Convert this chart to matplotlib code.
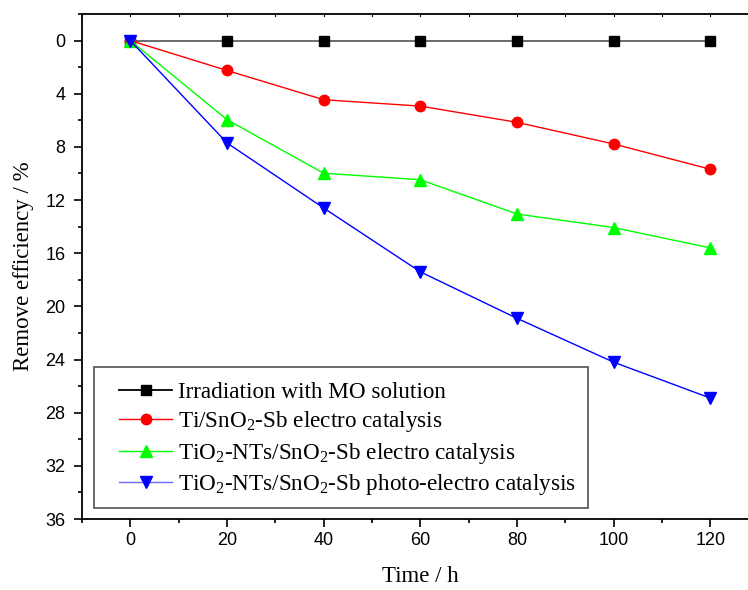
import matplotlib
matplotlib.use("Agg")
import matplotlib.pyplot as plt
from matplotlib.ticker import MultipleLocator
from matplotlib.patches import Rectangle

time_h = [0, 20, 40, 60, 80, 100, 120]
irradiation = [0, 0, 0, 0, 0, 0, 0]
ti_sno2 = [0, 2.25, 4.45, 4.93, 6.15, 7.78, 9.68]
tio2_electro = [0, 5.95, 9.98, 10.47, 13.05, 14.07, 15.6]
tio2_photo = [0, 7.7, 12.6, 17.4, 20.9, 24.2, 26.9]

labels = ["Irradiation with MO solution",
          "Ti/SnO$_2$-Sb electro catalysis",
          "TiO$_2$-NTs/SnO$_2$-Sb electro catalysis",
          "TiO$_2$-NTs/SnO$_2$-Sb photo-electro catalysis"]

serif = ["Liberation Serif", "DejaVu Serif"]
sans = ["Liberation Sans", "DejaVu Sans"]
plt.rcParams['mathtext.fontset'] = 'custom'
plt.rcParams['mathtext.rm'] = 'Liberation Serif'
plt.rcParams['mathtext.it'] = 'Liberation Serif:italic'

fig = plt.figure(figsize=(7.48, 5.9), dpi=100)
W, H = 748, 590
left_px, right_px = 82, 82 + 140 * 4.833
top_px, bot_px = 14, 519
ax = fig.add_axes([left_px / W, 1 - bot_px / H, (right_px - left_px) / W, (bot_px - top_px) / H])

h1, = ax.plot(time_h, irradiation, color="#606060", lw=1.3, marker="s", ms=6.5,
              mfc="black", mec="black")
h2, = ax.plot(time_h, ti_sno2, color="red", lw=1.0, marker="o", ms=7.5,
              mfc="red", mec="red")
h3, = ax.plot(time_h, tio2_electro, color="#00ff00", lw=1.0, marker="^", ms=8.5,
              mfc="#00ff00", mec="#00ff00")
h4, = ax.plot(time_h, tio2_photo, color="blue", lw=1.0, marker="v", ms=8.5,
              mfc="blue", mec="blue")

ax.set_xlim(-10, 130)
ax.set_ylim(36, -2)
ax.xaxis.set_major_locator(MultipleLocator(20))
ax.xaxis.set_minor_locator(MultipleLocator(10))
ax.yaxis.set_major_locator(MultipleLocator(4))
ax.yaxis.set_minor_locator(MultipleLocator(2))
ax.tick_params(axis='both', which='major', direction='out', length=5.5, width=1.2,
               labelsize=13, top=False, right=False)
ax.tick_params(axis='both', which='minor', direction='out', length=3.2, width=1.2,
               top=False, right=False)
ax.tick_params(axis='y', which='major', pad=6.5)
ax.tick_params(axis='x', which='major', pad=4)
for t in ax.get_xticklabels() + ax.get_yticklabels():
    t.set_family(sans)
# short inward ticks along the top spine
for x in range(-10, 131, 10):
    ax.plot([x, x], [-2, -1.85], color="black", lw=0.8, clip_on=False)
ax.set_xlim(-10, 130)
ax.set_ylim(36, -2)

for s in ax.spines.values():
    s.set_linewidth(1.3)

ax.set_xlabel("Time / h", fontsize=16.5, family=serif, labelpad=12)
ax.set_ylabel("Remove efficiency / %", fontsize=16.5, family=serif, labelpad=8)

# legend frame (drawn separately)
fig.patches.append(Rectangle((94 / W, 1 - 508 / H), (588 - 94) / W, (508 - 367) / H,
                             transform=fig.transFigure, fill=True, facecolor="white",
                             edgecolor="#505050", lw=1.2, zorder=5))
leg = fig.legend([h1, h2, h3, h4], labels, loc="upper left",
                 bbox_to_anchor=(119 / W, 1 - 382 / H),
                 prop={"family": serif, "size": 16.7}, frameon=False,
                 handlelength=2.3, handletextpad=0.25,
                 labelspacing=0.27, borderpad=0, borderaxespad=0)
leg.set_zorder(6)
for lh, c in zip(leg.get_lines(), ["black", "red", "#00ff00", "#6a6aff"]):
    lh.set_color(c)

fig.savefig("out.png", dpi=100)
